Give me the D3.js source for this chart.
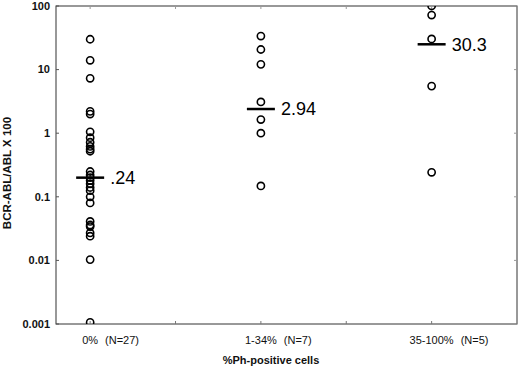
<!DOCTYPE html>
<html>
<head>
<meta charset="utf-8">
<script src="https://cdn.jsdelivr.net/npm/d3@7"></script>
<style>
  body { margin: 0; background: #fff; }
  svg { font-family: "Liberation Sans", Arial, sans-serif; }
</style>
</head>
<body>
<svg id="chart" width="520" height="370"></svg>
<script>
const categories = ["0%", "1-34%", "35-100%"];
const counts = ["(N=27)", "(N=7)", "(N=5)"];
const group0 = [30, 14, 7.3, 2.2, 2.0, 1.05, 0.85, 0.72, 0.62, 0.56, 0.52, 0.25, 0.22, 0.2, 0.18, 0.16, 0.14, 0.125, 0.1, 0.08, 0.041, 0.036, 0.034, 0.027, 0.024, 0.0103, 0.00106];
const group1 = [33.7, 20.7, 12.1, 3.1, 1.64, 1.0, 0.148];
const group2 = [100, 72, 30.3, 5.5, 0.243];
const medianLines = [0.2, 2.4, 25];
const medianLabels = [".24", "2.94", "30.3"];
const yTicks = [0.001, 0.01, 0.1, 1, 10, 100];
const yTickLabels = ["0.001", "0.01", "0.1", "1", "10", "100"];

const groups = [group0, group1, group2];

const svg = d3.select("#chart");
const plotLeft = 56, plotRight = 517, plotTop = 6, plotBottom = 324;

const x = d3.scaleLinear().domain([0.8, 3.5]).range([plotLeft, plotRight]);
const y = d3.scaleLog().domain([0.001, 100]).range([plotBottom, plotTop]);

svg.append("defs").append("clipPath").attr("id", "plotClip")
    .append("rect")
    .attr("x", plotLeft).attr("y", plotTop)
    .attr("width", plotRight - plotLeft).attr("height", plotBottom - plotTop);

// frame
svg.append("rect")
    .attr("x", plotLeft).attr("y", plotTop)
    .attr("width", plotRight - plotLeft).attr("height", plotBottom - plotTop)
    .attr("fill", "none")
    .attr("stroke", "#333")
    .attr("stroke-width", 1);

// inward ticks on left and right
yTicks.forEach(t => {
    svg.append("line").attr("x1", plotLeft).attr("x2", plotLeft + 3)
        .attr("y1", y(t)).attr("y2", y(t)).attr("stroke", "#555");
    svg.append("line").attr("x1", plotRight).attr("x2", plotRight - 3)
        .attr("y1", y(t)).attr("y2", y(t)).attr("stroke", "#999");
});
// ticks on top and bottom
[1, 1.5, 2, 2.5, 3].forEach(t => {
    svg.append("line").attr("x1", x(t)).attr("x2", x(t))
        .attr("y1", plotBottom).attr("y2", plotBottom - 3).attr("stroke", "#777");
    svg.append("line").attr("x1", x(t)).attr("x2", x(t))
        .attr("y1", plotTop).attr("y2", plotTop + 3).attr("stroke", "#999");
});

// y tick labels
svg.selectAll(".ytick")
    .data(yTicks)
    .enter()
    .append("text")
    .attr("x", plotLeft - 6)
    .attr("y", d => y(d))
    .attr("dy", "0.35em")
    .attr("text-anchor", "end")
    .attr("font-size", 11)
    .attr("font-weight", "bold")
    .attr("fill", "#111")
    .text((d, i) => yTickLabels[i]);

// y title
svg.append("text")
    .attr("transform", "translate(11,173) rotate(-90)")
    .attr("text-anchor", "middle")
    .attr("font-size", 11.5)
    .attr("font-weight", "bold")
    .attr("fill", "#111")
    .text("BCR-ABL/ABL X 100");

// x category labels
categories.forEach((c, i) => {
    const cx = x(i + 1);
    const t = svg.append("text")
        .attr("x", cx).attr("y", 344)
        .attr("text-anchor", "middle")
        .attr("font-size", 11)
        .attr("fill", "#111")
        .text(c);
    const w = t.node().getComputedTextLength();
    svg.append("text")
        .attr("x", cx + w / 2 + 7).attr("y", 344)
        .attr("font-size", 11)
        .attr("fill", "#111")
        .text(counts[i]);
});

// x title
svg.append("text")
    .attr("x", 271).attr("y", 364)
    .attr("text-anchor", "middle")
    .attr("font-size", 11)
    .attr("font-weight", "bold")
    .attr("fill", "#111")
    .text("%Ph-positive cells");

// points
const pts = svg.append("g").attr("clip-path", "url(#plotClip)");
groups.forEach((g, i) => {
    pts.selectAll(".p" + i)
        .data(g)
        .enter()
        .append("circle")
        .attr("cx", x(i + 1))
        .attr("cy", d => y(d))
        .attr("r", 3.6)
        .attr("fill", "none")
        .attr("stroke", "#000")
        .attr("stroke-width", 1.6);
});

// median lines and labels
medianLines.forEach((m, i) => {
    const cx = x(i + 1);
    svg.append("line")
        .attr("x1", cx - 14).attr("x2", cx + 14)
        .attr("y1", y(m)).attr("y2", y(m))
        .attr("stroke", "#000")
        .attr("stroke-width", 2.5);
    svg.append("text")
        .attr("x", cx + 20).attr("y", y(m))
        .attr("dy", "0.35em")
        .attr("font-size", 18)
        .attr("fill", "#000")
        .text(medianLabels[i]);
});
</script>
</body>
</html>
